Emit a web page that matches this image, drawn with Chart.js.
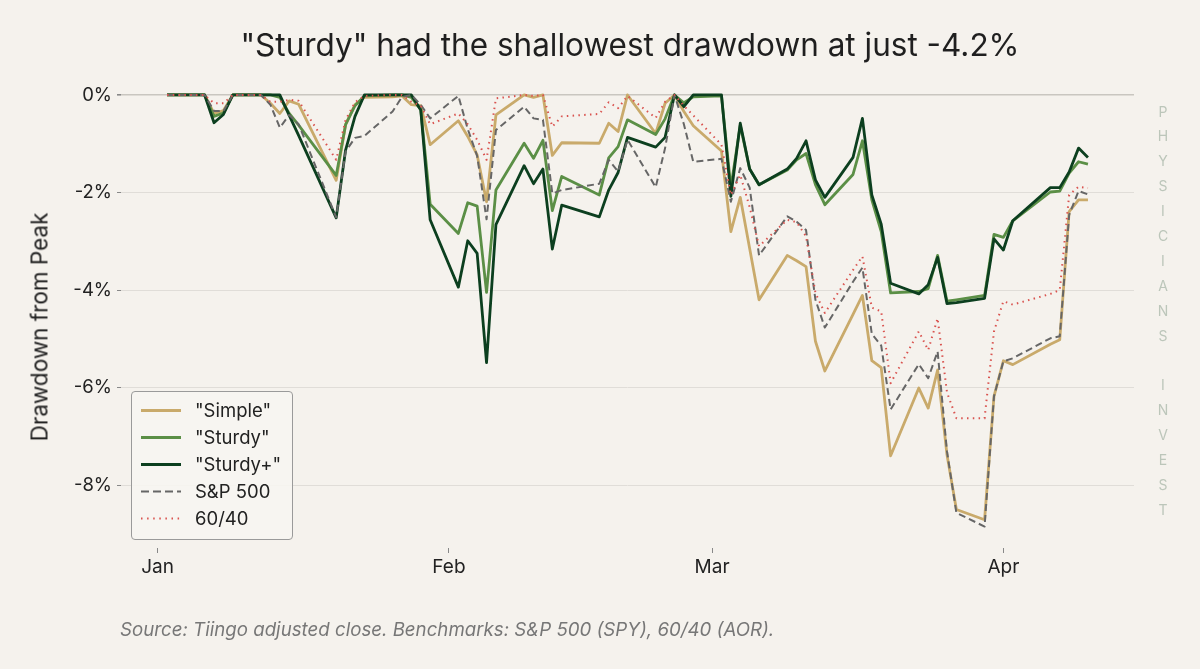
<!DOCTYPE html>
<html>
<head>
<meta charset="utf-8">
<script src="https://cdn.jsdelivr.net/npm/chart.js@4.4.1/dist/chart.umd.min.js"></script>
<style>
  html, body { margin: 0; padding: 0; background: #f5f2ed; }
  #wrap { position: relative; width: 1200px; height: 669px; overflow: hidden; background: #f5f2ed; font-family: Inter, "Noto Sans", sans-serif; }
  #c { position: absolute; left: 0; top: 0; }
  #title { position: absolute; left: 0; width: 1260px; top: 45px; transform: translateY(-50%); text-align: center; font-size: 31.5px; color: #1f1f1f; line-height: 40px; }
  #ytitle { position: absolute; left: 39px; top: 327px; transform: translate(-50%, -50%) rotate(-90deg); font-size: 22.5px; color: #222; white-space: nowrap; }
  #footer { position: absolute; left: 120px; top: 630px; transform: translateY(-50%); font-size: 18.7px; font-style: italic; color: #777; white-space: nowrap; line-height: 24px; }
  #side { position: absolute; left: 1153px; width: 20px; top: 99.5px; text-align: center; font-size: 14px; line-height: 24.9px; color: #bcc6ba; white-space: pre; }
  #legend { position: absolute; left: 131px; top: 391px; width: 162px; height: 149px; border: 1px solid #9a9a9a; border-radius: 4px; background: rgba(247,245,241,0.9); box-sizing: border-box; }
  .row { position: absolute; left: 0; height: 27px; width: 160px; }
  .row svg { position: absolute; left: 8px; top: 0; }
  .row span { position: absolute; left: 63px; top: 2px; font-size: 18.5px; color: #222; white-space: nowrap; line-height: 23px; }
</style>
</head>
<body>
<div id="wrap">
  <canvas id="c" width="1200" height="669"></canvas>
  <div id="title">"Sturdy" had the shallowest drawdown at just -4.2%</div>
  <div id="ytitle">Drawdown from Peak</div>
  <div id="footer">Source: Tiingo adjusted close. Benchmarks: S&amp;P 500 (SPY), 60/40 (AOR).</div>
  <div id="side"></div>
  <div id="legend"></div>
</div>
<script>
// ---- data ----
const dates = [
  "2026-01-02","2026-01-05","2026-01-06","2026-01-07","2026-01-08","2026-01-09",
  "2026-01-12","2026-01-13","2026-01-14","2026-01-15","2026-01-16",
  "2026-01-20","2026-01-21","2026-01-22","2026-01-23",
  "2026-01-26","2026-01-27","2026-01-28","2026-01-29","2026-01-30",
  "2026-02-02","2026-02-03","2026-02-04","2026-02-05","2026-02-06",
  "2026-02-09","2026-02-10","2026-02-11","2026-02-12","2026-02-13",
  "2026-02-17","2026-02-18","2026-02-19","2026-02-20",
  "2026-02-23","2026-02-24","2026-02-25","2026-02-26","2026-02-27",
  "2026-03-02","2026-03-03","2026-03-04","2026-03-05","2026-03-06",
  "2026-03-09","2026-03-10","2026-03-11","2026-03-12","2026-03-13",
  "2026-03-16","2026-03-17","2026-03-18","2026-03-19","2026-03-20",
  "2026-03-23","2026-03-24","2026-03-25","2026-03-26","2026-03-27",
  "2026-03-30","2026-03-31","2026-04-01","2026-04-02",
  "2026-04-06","2026-04-07","2026-04-08","2026-04-09","2026-04-10"
];
const simple = [
  0,0,0,-0.38,-0.32,0,
  0,-0.17,-0.38,-0.12,-0.19,
  -1.75,-0.61,-0.20,-0.05,
  -0.04,-0.02,-0.20,-0.22,-1.02,
  -0.53,-0.85,-1.23,-2.19,-0.41,
  0,-0.05,0,-1.24,-0.98,
  -0.99,-0.58,-0.75,0,
  -0.79,-0.17,0,-0.34,-0.63,
  -1.15,-2.80,-2.10,-3.15,-4.20,
  -3.29,-3.40,-3.52,-5.05,-5.66,
  -4.50,-4.11,-5.45,-5.59,-7.40,
  -6.01,-6.42,-5.64,-7.38,-8.50,
  -8.71,-6.18,-5.45,-5.53,
  -5.11,-5.02,-2.39,-2.15,-2.15
];
const sturdy = [
  0,0,0,-0.44,-0.37,0,
  0,0,-0.05,-0.38,-0.62,
  -1.65,-0.61,-0.22,-0.02,
  0,0,-0.05,-0.30,-2.24,
  -2.84,-2.21,-2.28,-4.05,-1.95,
  -0.99,-1.30,-0.93,-2.37,-1.67,
  -2.05,-1.29,-1.06,-0.51,
  -0.81,-0.49,0,-0.16,-0.04,
  -0.02,-1.90,-0.62,-1.52,-1.84,
  -1.54,-1.33,-1.20,-1.84,-2.25,
  -1.63,-0.94,-2.15,-2.80,-4.06,
  -4.03,-3.97,-3.29,-4.23,-4.20,
  -4.11,-2.86,-2.92,-2.58,
  -1.99,-1.97,-1.60,-1.37,-1.42
];
const sturdyPlus = [
  0,0,0,-0.57,-0.40,0,
  0,0,0,-0.42,-0.83,
  -2.52,-1.13,-0.44,0,
  0,0,0,-0.31,-2.56,
  -3.94,-2.99,-3.25,-5.49,-2.66,
  -1.45,-1.82,-1.52,-3.16,-2.26,
  -2.50,-1.95,-1.59,-0.87,
  -1.07,-0.87,0,-0.24,0,
  0,-2.08,-0.58,-1.52,-1.84,
  -1.52,-1.30,-0.94,-1.74,-2.10,
  -1.28,-0.48,-2.05,-2.65,-3.86,
  -4.08,-3.89,-3.33,-4.28,-4.26,
  -4.17,-2.95,-3.18,-2.58,
  -1.90,-1.90,-1.58,-1.09,-1.28
];
const sp500 = [
  0,0,0,-0.33,-0.33,0,
  0,-0.20,-0.67,-0.41,-0.60,
  -2.51,-1.16,-0.88,-0.84,
  -0.34,-0.04,0,-0.20,-0.48,
  -0.02,-0.70,-1.25,-2.55,-0.72,
  -0.24,-0.48,-0.51,-2.02,-1.95,
  -1.82,-1.33,-1.57,-0.92,
  -1.89,-1.09,0,-0.60,-1.37,
  -1.31,-2.19,-1.50,-1.90,-3.29,
  -2.49,-2.60,-2.77,-4.20,-4.77,
  -3.83,-3.54,-4.90,-5.14,-6.45,
  -5.52,-5.81,-5.26,-7.31,-8.57,
  -8.85,-6.18,-5.46,-5.40,
  -4.99,-4.95,-2.46,-1.97,-2.04
];
const sixtyForty = [
  0,0,0,-0.17,-0.17,0,
  0,-0.14,-0.14,-0.10,-0.12,
  -1.33,-0.51,-0.15,-0.02,
  0,0,-0.14,-0.22,-0.60,
  -0.38,-0.60,-0.92,-1.33,-0.07,
  0,-0.02,0,-0.65,-0.44,
  -0.39,-0.15,-0.27,-0.02,
  -0.47,-0.14,0,-0.22,-0.42,
  -1.02,-2.05,-1.64,-2.30,-3.10,
  -2.56,-2.61,-2.90,-4.06,-4.47,
  -3.59,-3.31,-4.36,-4.44,-5.91,
  -4.85,-5.23,-4.58,-6.10,-6.63,
  -6.63,-4.85,-4.23,-4.30,
  -4.08,-4.00,-2.05,-1.88,-1.91
];
const monthTickDates = ["2026-01-01","2026-02-01","2026-03-01","2026-04-01"];
const monthTickLabels = ["Jan","Feb","Mar","Apr"];
const yTicks = [0,-2,-4,-6,-8];
const seriesNames = ['"Simple"','"Sturdy"','"Sturdy+"','S&P 500','60/40'];
const sideText = "PHYSICIANS INVEST";

// ---- helpers ----
const base = Date.UTC(2026,0,1);
function dayNum(s){ const p = s.split('-').map(Number); return (Date.UTC(p[0],p[1]-1,p[2]) - base)/86400000; }
const xs = dates.map(dayNum);
const pts = arr => arr.map((v,i)=>({x: xs[i], y: v}));

const styles = [
  {color:'#c9aa6b', width:2.8, dash:[], order:5},
  {color:'#5b8f46', width:2.8, dash:[], order:4},
  {color:'#0c3f1f', width:2.8, dash:[], order:3},
  {color:'#666666', width:2.0, dash:[7,4], order:2},
  {color:'#d9534f', width:2.0, dash:[1.5,4.3], order:1}
];
const allSeries = [simple, sturdy, sturdyPlus, sp500, sixtyForty];

const datasets = allSeries.map((s,i)=>({
  label: seriesNames[i],
  data: pts(s),
  borderColor: styles[i].color,
  borderWidth: styles[i].width,
  borderDash: styles[i].dash,
  borderCapStyle: 'butt',
  borderJoinStyle: 'round',
  pointRadius: 0,
  tension: 0,
  fill: false,
  order: styles[i].order
}));

const tickDays = monthTickDates.map(dayNum);

new Chart(document.getElementById('c'), {
  type: 'line',
  data: { datasets },
  options: {
    responsive: false,
    animation: false,
    devicePixelRatio: 1,
    layout: { padding: { top: 73.5, right: 66, bottom: 0, left: 0 } },
    plugins: { legend: { display: false }, tooltip: { enabled: false }, title: { display: false } },
    scales: {
      x: {
        type: 'linear',
        min: -3.9, max: 103.9,
        afterFit: s => { s.height = 121; },
        afterBuildTicks: s => { s.ticks = tickDays.map(v=>({value:v})); },
        ticks: {
          callback: (v) => { const i = tickDays.indexOf(v); return i >= 0 ? monthTickLabels[i] : ''; },
          font: { family: 'Inter', size: 19 }, color: '#222', padding: 3, maxRotation: 0, autoSkip: false
        },
        grid: { drawOnChartArea: false, drawTicks: true, tickLength: 5, color: '#888', tickColor: '#888' },
        border: { display: false }
      },
      y: {
        type: 'linear',
        min: -9.29, max: 0.44,
        afterFit: s => { s.width = 121; },
        afterBuildTicks: s => { s.ticks = yTicks.map(v=>({value:v})); },
        ticks: {
          callback: v => v + '%',
          font: { family: 'Inter', size: 18.5 }, color: '#222', padding: 5
        },
        grid: {
          color: c => (c.tick && c.tick.value === 0) ? '#c9c6c0' : '#e0ddd8',
          lineWidth: c => (c.tick && c.tick.value === 0) ? 1.6 : 1,
          tickColor: '#888', tickLength: 4, drawTicks: true
        },
        border: { display: false }
      }
    }
  }
});

// side text
document.getElementById('side').textContent = sideText.split('').join('\n');

// legend
const leg = document.getElementById('legend');
const rowTops = [5, 32, 59, 86, 113];
seriesNames.forEach((n,i)=>{
  const r = document.createElement('div');
  r.className = 'row';
  r.style.top = rowTops[i] + 'px';
  const st = styles[i];
  const dash = st.dash.length ? `stroke-dasharray="${i===3 ? '8,4' : '1.5,4.6'}"` : '';
  r.innerHTML = `<svg width="42" height="27"><line x1="1" y1="13.5" x2="41" y2="13.5" stroke="${st.color}" stroke-width="${i<3?3:2}" ${dash}/></svg>`;
  const sp = document.createElement('span');
  sp.textContent = n;
  r.appendChild(sp);
  leg.appendChild(r);
});
</script>
</body>
</html>
